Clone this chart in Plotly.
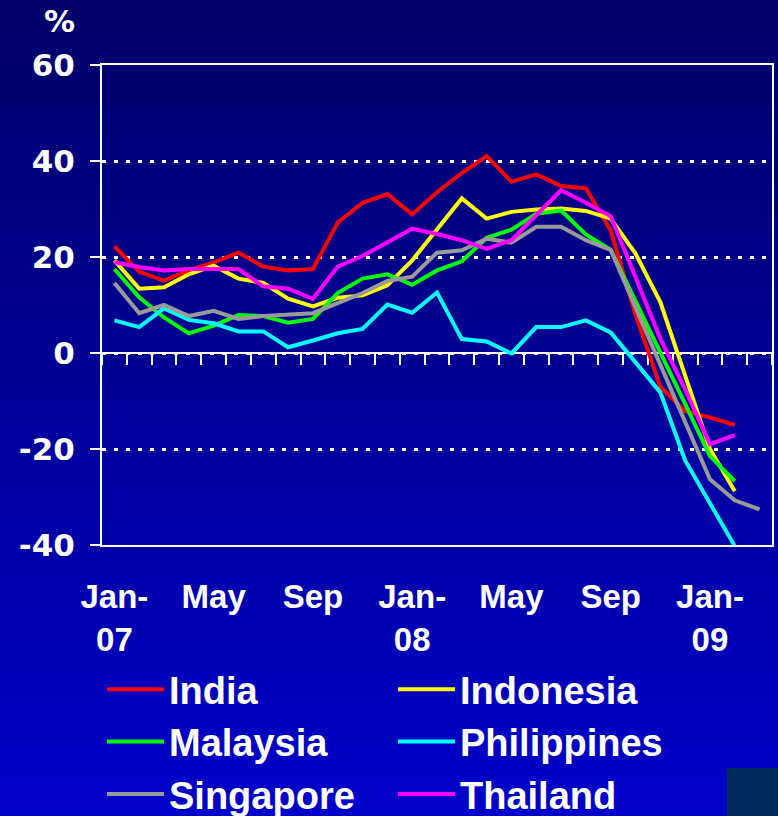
import plotly.graph_objects as go

# monthly categories, Jan-07 .. Mar-09
months = ["Jan-07", "Feb-07", "Mar-07", "Apr-07", "May-07", "Jun-07", "Jul-07", "Aug-07", "Sep-07",
          "Oct-07", "Nov-07", "Dec-07", "Jan-08", "Feb-08", "Mar-08", "Apr-08", "May-08", "Jun-08",
          "Jul-08", "Aug-08", "Sep-08", "Oct-08", "Nov-08", "Dec-08", "Jan-09", "Feb-09", "Mar-09"]

tick_months = ["Jan-07", "May-07", "Sep-07", "Jan-08", "May-08", "Sep-08", "Jan-09"]
tick_labels = ["Jan-<br>07", "May", "Sep", "Jan-<br>08", "May", "Sep", "Jan-<br>09"]

y_ticks = [-40, -20, 0, 20, 40, 60]
y_labels = ["-40", "-20", "0", "20", "40", "60"]

india = [22.2, 16.9, 15.1, 17.2, 18.9, 20.9, 18.0, 17.2, 17.5, 27.2, 31.3, 33.1,
         28.9, 33.5, 37.5, 41.0, 35.7, 37.2, 34.8, 34.3, 25.5, 8.0, -7.0, -12.1,
         -13.4, -15.0]
indonesia = [19.3, 13.4, 13.7, 16.4, 18.2, 15.5, 14.6, 11.3, 9.7, 11.5, 12.0, 14.1,
             19.3, 25.6, 32.2, 28.0, 29.4, 29.9, 30.1, 29.6, 28.0, 20.7, 10.6, -4.7,
             -20.0, -28.8]
malaysia = [17.5, 11.6, 7.4, 4.1, 5.7, 7.9, 7.7, 6.3, 7.1, 12.5, 15.5, 16.4,
            14.2, 17.2, 19.1, 24.0, 25.7, 29.0, 29.7, 24.7, 21.5, 10.9, 0.1, -10.6,
            -21.5, -26.7]
philippines = [6.8, 5.4, 9.3, 6.9, 6.2, 4.5, 4.5, 1.2, 2.6, 4.1, 5.0, 10.1,
               8.4, 12.6, 2.9, 2.4, -0.1, 5.4, 5.4, 6.8, 4.3, -1.8, -8.2, -22.4,
               -31.2, -40.2]
singapore = [14.6, 8.3, 10.0, 7.7, 8.8, 7.1, 7.7, 7.9, 8.3, 10.4, 12.5, 15.0,
             15.9, 20.9, 21.4, 23.8, 23.0, 26.3, 26.3, 23.5, 21.5, 9.5, -2.4, -14.3,
             -26.3, -30.7, -32.6]
thailand = [18.9, 17.9, 17.2, 17.5, 17.5, 17.5, 13.9, 13.4, 11.3, 18.0, 20.2, 23.0,
            25.9, 24.8, 23.5, 21.7, 23.5, 28.7, 33.9, 31.3, 28.5, 15.8, 3.0, -7.6,
            -19.0, -17.1]

series = [("India", india, "#ff0000"),
          ("Indonesia", indonesia, "#ffff00"),
          ("Malaysia", malaysia, "#00ff00"),
          ("Philippines", philippines, "#00ffff"),
          ("Singapore", singapore, "#999999"),
          ("Thailand", thailand, "#ff00ff")]

W, H = 778, 816
ML, MR, MT, MB = 102, 6, 65, 271
PW, PH = W - ML - MR, H - MT - MB

bold = "Liberation Sans"
fig = go.Figure()

# invisible trace so the zero-line axis (x2) gets drawn
fig.add_trace(go.Scatter(x=months[:len(india)], y=india, xaxis="x2", mode="lines",
                         line=dict(color="rgba(0,0,0,0)"), showlegend=False, hoverinfo="skip"))

for name, vals, col in series:
    fig.add_trace(go.Scatter(x=months[:len(vals)], y=vals, name=name, mode="lines",
                             line=dict(color=col, width=4)))


def px_to_paper_y(py):
    return (H - MB - py) / PH


# vertical blue gradient background
shapes = []
n = 102
for i in range(n):
    y_top = i * H / n
    y_bot = (i + 1) * H / n
    b = int(round(106 + (202 - 106) * i / (n - 1)))
    shapes.append(dict(type="rect", xref="paper", yref="paper",
                       x0=-ML / PW - 0.02, x1=1 + MR / PW + 0.02,
                       y0=px_to_paper_y(y_bot + 0.6), y1=px_to_paper_y(y_top - 0.1),
                       fillcolor="rgb(0,0,%d)" % b, line=dict(width=0), layer="below"))
# dark box bottom right
shapes.append(dict(type="rect", xref="paper", yref="paper",
                   x0=(727 - ML) / PW, x1=1 + MR / PW + 0.02,
                   y0=px_to_paper_y(H + 4), y1=px_to_paper_y(768),
                   fillcolor="#002d5e", line=dict(width=0), layer="below"))

fig.update_layout(
    width=W, height=H,
    margin=dict(l=ML, r=MR, t=MT, b=MB, pad=0, autoexpand=False),
    paper_bgcolor="#00009a",
    plot_bgcolor="rgba(0,0,0,0)",
    shapes=shapes,
    font=dict(family=bold, color="white", weight="bold"),
    showlegend=True,
    legend=dict(orientation="h", x=0, y=px_to_paper_y(658), xanchor="left", yanchor="top",
                entrywidth=219, entrywidthmode="pixels", itemwidth=57,
                font=dict(family=bold, size=38, color="white", weight="bold"),
                bgcolor="rgba(0,0,0,0)"),
    xaxis=dict(type="category", categoryorder="array", categoryarray=months,
               range=[-0.5, len(months) - 0.5], automargin=False,
               tickvals=tick_months, ticktext=tick_labels, ticks="",
               showline=True, mirror=True, linecolor="white", linewidth=1.5,
               showgrid=False, zeroline=False, ticklabelstandoff=22,
               tickfont=dict(family=bold, size=33, color="white", weight="bold")),
    xaxis2=dict(type="category", matches="x", overlaying="x", anchor="free", position=0.4,
                categoryorder="array", categoryarray=months, automargin=False,
                tickson="boundaries", dtick=1, ticks="outside", ticklen=11, tickwidth=2,
                tickcolor="white", showticklabels=False, showline=True, linecolor="white",
                linewidth=2, showgrid=False, zeroline=False, layer="below traces"),
    yaxis=dict(range=[-40, 60], tickvals=y_ticks, ticktext=y_labels, automargin=False,
               ticks="outside", ticklen=10, tickwidth=2,
               tickcolor="white", showline=True, mirror=True, linecolor="white", linewidth=2,
               showgrid=True, gridcolor="white", gridwidth=2.5, griddash="4px,8px",
               zeroline=False, ticklabelstandoff=9,
               tickfont=dict(family="DejaVu Sans", size=31, color="white", weight="bold")),
    annotations=[dict(text="%", xref="paper", yref="paper", x=(59 - ML) / PW,
                      y=px_to_paper_y(21), xanchor="center", yanchor="middle",
                      showarrow=False,
                      font=dict(family="DejaVu Sans", size=31, color="white", weight="bold"))],
)

fig.write_html("out.html", config={"displayModeBar": False},
               post_script="document.body.style.margin='0';")
